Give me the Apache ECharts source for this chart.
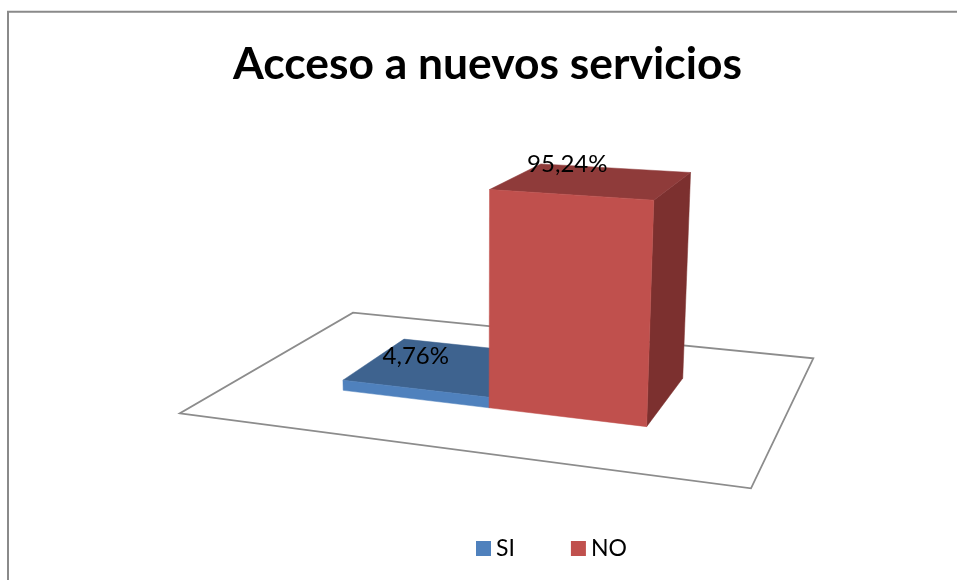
<!DOCTYPE html>
<html>
<head>
<meta charset="utf-8">
<style>html,body{margin:0;padding:0;background:#fff}#c{width:957px;height:580px}</style>
<script src="https://cdn.jsdelivr.net/npm/echarts@6/dist/echarts.min.js"></script>
</head>
<body>
<div id="c"></div>
<script>
const titleText = 'Acceso a nuevos servicios';
const categories = ['Acceso a nuevos servicios'];
const seriesNames = ['SI', 'NO'];
const seriesValues = [4.76, 95.24];
const frontColors = ['#4F81BD', '#C0504D'];
const topColors = ['#3E638F', '#8F3B3A'];
const sideColors = ['#375A83', '#7C302F'];
const labelOffsets = [[-28, -10.5], [-26, -16.5]];

// Perspective camera: floor (u, v in 0..1) + height (axis value) to screen
const cam = {
  a: 469.34, b: 264.36, c: 180,
  d: 8.89, e: -19.67, f: 413.3,
  g: -0.13537, h: 0.25882,
  px: -0.1997, py: -2.3934, pw: -0.000417
};
function project(u, v, val) {
  const w = 1 + cam.g * u + cam.h * v + cam.pw * val;
  return [
    (cam.a * u + cam.b * v + cam.c + cam.px * val) / w,
    (cam.d * u + cam.e * v + cam.f + cam.py * val) / w
  ];
}
const gapBars = 1.5;      // gap width 150 %
const depthFront = 0.3, depthBack = 0.7;

function axisToModel(params, api, slot) {
  const cs = params.coordSys;
  const pt = api.coord([api.value(0), api.value(1)]);
  const band = api.size([1, 0])[0];
  const barW = band / (seriesNames.length + gapBars);
  const left = pt[0] + (slot - seriesNames.length / 2) * barW;
  return {
    u0: (left - cs.x) / cs.width,
    u1: (left + barW - cs.x) / cs.width,
    val: (cs.y + cs.height - pt[1]) / cs.height * 100
  };
}
function face(points, color) {
  return { type: 'polygon', shape: { points }, silent: true,
    style: { fill: color, stroke: color, lineWidth: 0.5 } };
}
function barRenderer(slot) {
  return function (params, api) {
    const m = axisToModel(params, api, slot);
    const v0 = depthFront, v1 = depthBack;
    const fl = project(m.u0, v0, 0), fr = project(m.u1, v0, 0), br = project(m.u1, v1, 0);
    const tfl = project(m.u0, v0, m.val), tfr = project(m.u1, v0, m.val);
    const tbr = project(m.u1, v1, m.val), tbl = project(m.u0, v1, m.val);
    const mid = project((m.u0 + m.u1) / 2, (v0 + v1) / 2, m.val);
    const off = labelOffsets[slot];
    return { type: 'group', children: [
      face([fr, br, tbr, tfr], sideColors[slot]),
      face([tfl, tfr, tbr, tbl], topColors[slot]),
      face([fl, fr, tfr, tfl], frontColors[slot]),
      { type: 'text', x: mid[0] + off[0], y: mid[1] + off[1], silent: true, z2: 10,
        style: { text: api.value(1).toFixed(2).replace('.', ',') + '%',
          fill: '#000', font: '24px Lato', align: 'center', verticalAlign: 'middle' } }
    ] };
  };
}
function floorRenderer() {
  const pts = [project(0, 0, 0), project(1, 0, 0), project(1, 1, 0), project(0, 1, 0)];
  return { type: 'polygon', shape: { points: pts }, silent: true,
    style: { fill: '#fff', stroke: '#8c8c8c', lineWidth: 1.8 } };
}

const chart = echarts.init(document.getElementById('c'), null, { renderer: 'canvas' });
chart.setOption({
  animation: false,
  backgroundColor: '#fff',
  title: { text: titleText, left: 228, top: 38,
    textStyle: { fontFamily: 'Lato', fontWeight: 'bold', fontSize: 44.4, color: '#000' } },
  legend: { data: seriesNames, left: 471, top: 532, icon: 'rect', itemWidth: 15, itemHeight: 15,
    itemGap: 56, selectedMode: false,
    textStyle: { fontFamily: 'Lato', fontSize: 23, color: '#000' } },
  grid: { left: 0, right: 0, top: 0, bottom: 0 },
  xAxis: { type: 'category', data: categories, show: false },
  yAxis: { type: 'value', min: 0, max: 100, show: false },
  graphic: [{ type: 'polyline', silent: true, z: -1,
    shape: { points: [[8, 580], [8, 11.7], [957, 11.7]] },
    style: { fill: 'none', stroke: '#8a8a8a', lineWidth: 2 } }],
  series: [
    { type: 'custom', name: 'suelo', data: [[0, 0]], renderItem: floorRenderer, clip: false, z: 1, silent: true },
    ...seriesNames.map((name, i) => ({
      type: 'custom', name, clip: false, z: 2 + i, silent: true,
      itemStyle: { color: frontColors[i] },
      renderItem: barRenderer(i),
      encode: { x: 0, y: 1 },
      data: [[0, seriesValues[i]]]
    }))
  ]
});
</script>
</body>
</html>
